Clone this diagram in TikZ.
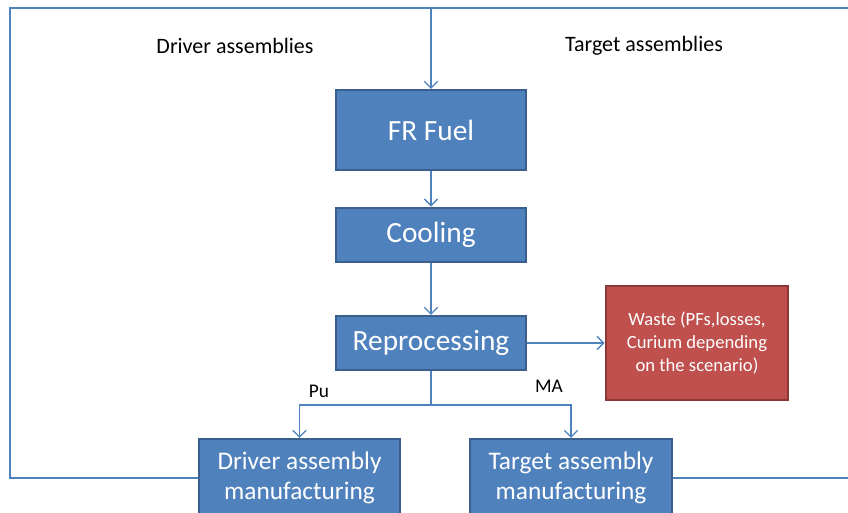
\documentclass[tikz,border=0pt]{standalone}
\usepackage{fontspec}
\setmainfont{Carlito}
\usepackage{xcolor}
\usetikzlibrary{arrows.meta,calc,positioning}
\definecolor{boxblue}{HTML}{4F81BD}
\definecolor{boxblueedge}{HTML}{3A5F8C}
\definecolor{wastered}{HTML}{C0504D}
\definecolor{wasterededge}{HTML}{8C3836}
\tikzset{
  stage/.style={draw=boxblueedge, line width=1.6pt, fill=boxblue, text=white,
    inner sep=0pt, align=center},
  wastebox/.style={draw=wasterededge, line width=1.6pt, fill=wastered, text=white,
    inner sep=0pt, align=center, font=\fontsize{14}{17.3}\selectfont},
  flow/.style={draw=boxblue, line width=1pt},
  >={Straight Barb[length=5pt,width=10pt]}
}

\begin{document}
\begin{tikzpicture}[x=0.75pt,y=-0.75pt]
  \useasboundingbox (0,0) rectangle (848,513);
  % process chain
  \node[stage, minimum width=142.5pt, minimum height=60pt,
    font=\fontsize{22}{26}\selectfont] (fuel) at (431,130) {FR Fuel};
  \node[stage, minimum width=142.5pt, minimum height=41pt,
    font=\fontsize{22}{26}\selectfont] (cool) at (431,235) {Cooling};
  \node[stage, minimum width=142.5pt, minimum height=40.5pt,
    font=\fontsize{22}{26}\selectfont] (repro) at (431,343) {Reprocessing};
  \node[wastebox, minimum width=137pt, minimum height=85.5pt] (waste) at (697,343)
    {Waste (PFs,losses,\\Curium depending\\on the scenario)};
  \node[stage, minimum width=150.75pt, minimum height=58.5pt,
    font=\fontsize{19}{22.5}\selectfont] (driver) at (299.5,478)
    {Driver assembly\\manufacturing};
  \node[stage, minimum width=151.5pt, minimum height=58.5pt,
    font=\fontsize{19}{22.5}\selectfont] (target) at (571,478)
    {Target assembly\\manufacturing};
  % labels
  \node[font=\fontsize{16.5}{20}\selectfont] (drvlbl) at (235,46) {Driver assemblies};
  \node[font=\fontsize{16.5}{20}\selectfont] (tgtlbl) at (644,46) {Target assemblies};
  \node[font=\fontsize{14.5}{17}\selectfont] (pu) at (319,391) {Pu};
  \node[font=\fontsize{14.5}{17}\selectfont] (ma) at (549,386) {MA};
  % connectors
  \coordinate (split) at (431,405);
  \coordinate (topleft) at (10,8);
  \coordinate (topright) at (870,8);
  \coordinate (topmid) at (fuel.north |- topleft);
  \draw[flow,->] (fuel) -- (cool);
  \draw[flow,->] (cool) -- (repro);
  \draw[flow,->] (repro) -- (waste);
  \draw[flow] (repro) -- (split);
  \draw[flow,->] (split) -| (driver.north);
  \draw[flow,->] (split) -| (target.north);
  % recycling loop back to the fuel
  \draw[flow] (driver.west) -| (topleft) -- (topmid);
  \draw[flow] (target.east) -| (topright) -- (topmid);
  \draw[flow,->] (topmid) -- (fuel.north);
\end{tikzpicture}
\end{document}
